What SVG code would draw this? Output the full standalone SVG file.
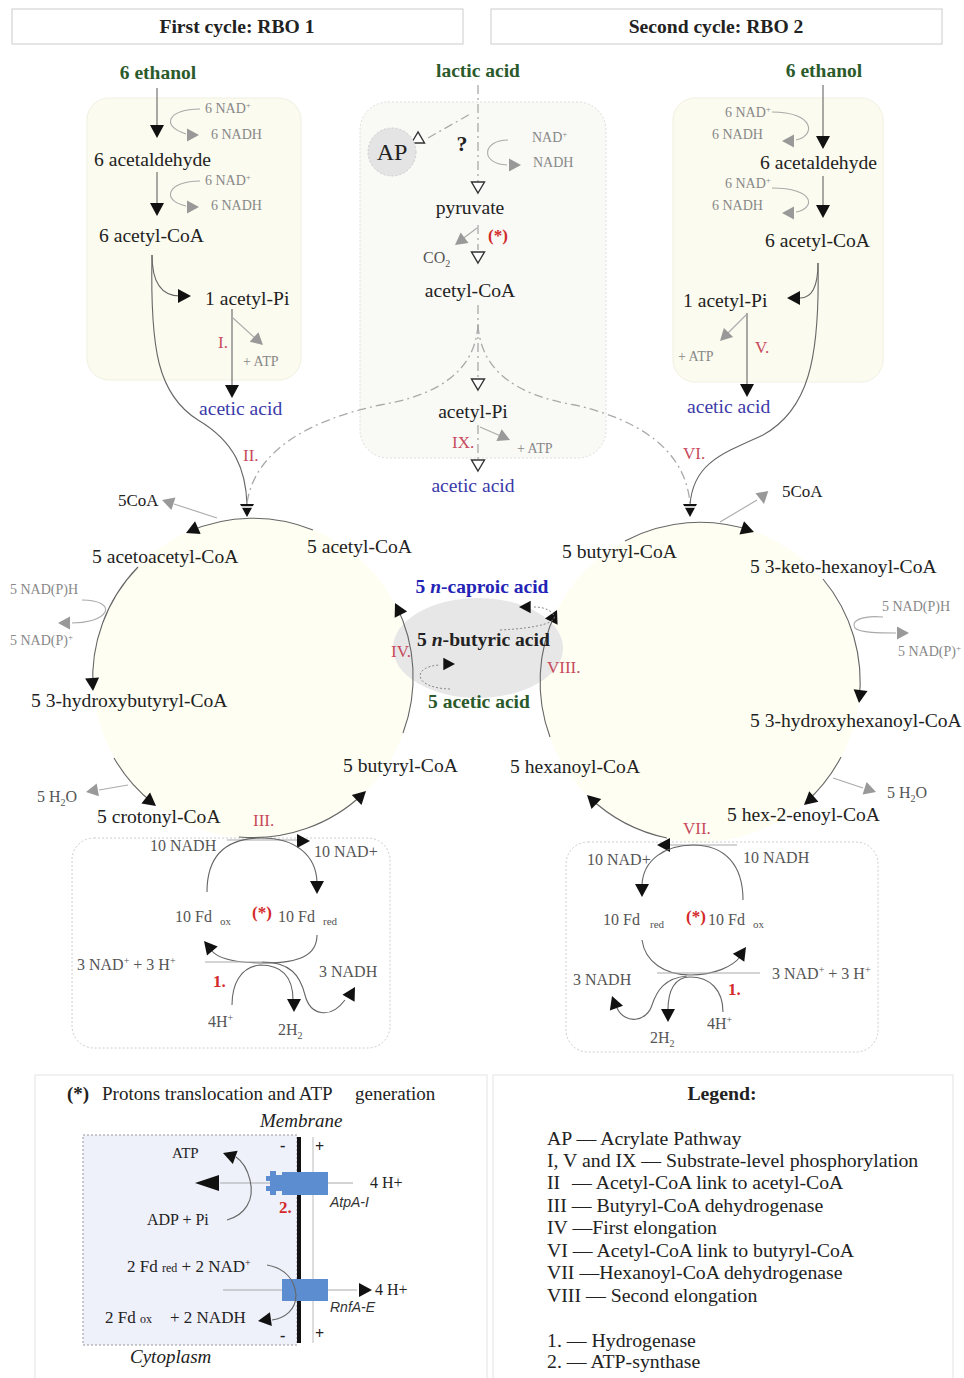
<svg xmlns="http://www.w3.org/2000/svg" width="964" height="1378" viewBox="0 0 964 1378">
<style>
text{font-family:"Liberation Serif","Times New Roman",serif;fill:#222}
.t{font-size:19.6px}
.bd{font-weight:bold}
.g{fill:#2b5a2b;font-weight:bold;font-size:19.5px}
.bl{fill:#3a3aa8;font-size:19.6px}
.sm{font-size:14px;fill:#888}
.md{font-size:16px;fill:#555}
.rn{font-size:17px;fill:#c84a5c}
.rb{font-size:17px;fill:#d42a2a;font-weight:bold}
.lg{font-size:19.8px}
.sans{font-family:"Liberation Sans",Arial,sans-serif;font-style:italic;font-size:14px;fill:#333}
.ln{fill:none;stroke:#666;stroke-width:1.1}
.gl{fill:none;stroke:#aaa;stroke-width:1.1}
.dd{fill:none;stroke:#aaa;stroke-width:1.3;stroke-dasharray:9 4 2 4}
.dt{fill:none;stroke:#888;stroke-width:1;stroke-dasharray:2 2}
.panel{fill:#fbfbef;stroke:#f0f0e2}
.circ{fill:#fefef2}
.box{fill:#fff;stroke:#ccc;stroke-dasharray:2 2}
</style>
<defs>
<path id="ab" d="M0,0L-13,-7L-13,7Z" fill="#111"/>
<path id="ag" d="M0,0L-12,-6.5L-12,6.5Z" fill="#999"/>
<path id="ah" d="M0,0L-11,-6.5L-11,6.5Z" fill="#fff" stroke="#333" stroke-width="1.4"/>
<path id="aL" d="M0,0L-24,-8L-24,8Z" fill="#111"/>
</defs>
<rect width="964" height="1378" fill="#fff"/>

<g id="headers">
<rect x="12" y="9" width="451" height="35" fill="#fff" stroke="#ccc"/>
<text x="237" y="33" text-anchor="middle" class="t bd">First cycle: RBO 1</text>
<rect x="491" y="9" width="451" height="35" fill="#fff" stroke="#ccc"/>
<text x="716" y="33" text-anchor="middle" class="t bd">Second cycle: RBO 2</text>
</g>

<g id="backgrounds">
<rect x="87" y="98" width="214" height="282" rx="22" class="panel"/>
<rect x="360" y="102" width="246" height="356" rx="28" fill="#f9f9f6" stroke="#ddd" stroke-dasharray="2 2"/>
<rect x="673" y="98" width="210" height="284" rx="22" class="panel"/>
<circle cx="253" cy="678" r="160" class="circ"/>
<circle cx="700" cy="682" r="160" class="circ"/>
<ellipse cx="478" cy="648" rx="85" ry="50" fill="#e7e7e7"/>
<rect x="72" y="838" width="318" height="210" rx="22" class="box"/>
<rect x="566" y="842" width="312" height="210" rx="22" class="box"/>
<rect x="35" y="1075" width="452" height="310" fill="#fff" stroke="#e3e3e3"/>
<rect x="493" y="1075" width="460" height="310" fill="#fff" stroke="#e3e3e3"/>
</g>

<g id="connectors">
<!-- left top column -->
<path class="ln" d="M157,88V126"/><use href="#ab" transform="translate(157,138) rotate(90)"/>
<path class="gl" d="M200,109C168,109 160,126 186,134"/><use href="#ag" transform="translate(199,135)"/>
<path class="ln" d="M157,172V204"/><use href="#ab" transform="translate(157,216) rotate(90)"/>
<path class="gl" d="M200,181C168,181 160,200 186,206"/><use href="#ag" transform="translate(199,207)"/>
<path class="ln" d="M152,255C152,280 160,296 180,296"/><use href="#ab" transform="translate(191,296)"/>
<path class="ln" d="M232,309V388"/><use href="#ab" transform="translate(232,398) rotate(90)"/>
<path class="gl" d="M233,318L257,340"/><use href="#ag" transform="translate(263,345) rotate(42)"/>
<path class="ln" d="M152,255C150,350 158,395 198,420C235,442 246,470 247,505"/>
<!-- middle column -->
<path class="dd" d="M478,85V182M478,225V250M478,305V378M478,425V460"/>
<use href="#ah" transform="translate(478,193) rotate(90)"/>
<use href="#ah" transform="translate(478,263) rotate(90)"/>
<use href="#ah" transform="translate(478,390) rotate(90)"/>
<use href="#ah" transform="translate(478,471) rotate(90)"/>
<path class="dd" d="M428,138L472,113"/><use href="#ah" transform="translate(418,132) rotate(-90)"/>
<path class="gl" d="M508,140C482,140 480,164 507,165"/><use href="#ag" transform="translate(521,165)"/>
<path class="gl" d="M477,228L461,240"/><use href="#ag" transform="translate(455,245) rotate(143)"/>
<path class="gl" d="M480,427L503,437"/><use href="#ag" transform="translate(510,440) rotate(24)"/>
<path class="dd" d="M478,325C475,370 440,395 380,405C310,420 255,450 247,503"/>
<path class="dd" d="M478,325C481,370 515,395 575,405C640,420 685,450 690,503"/>
<!-- right top column -->
<path class="ln" d="M823,85V137"/><use href="#ab" transform="translate(823,149) rotate(90)"/>
<path class="gl" d="M772,112C815,112 816,136 796,140"/><use href="#ag" transform="translate(782,141) rotate(180)"/>
<path class="ln" d="M823,176V206"/><use href="#ab" transform="translate(823,218) rotate(90)"/>
<path class="gl" d="M772,188C815,188 816,208 796,212"/><use href="#ag" transform="translate(782,213) rotate(180)"/>
<path class="ln" d="M818,263C818,285 813,298 800,298"/><use href="#ab" transform="translate(787,298) rotate(180)"/>
<path class="ln" d="M747,313V386"/><use href="#ab" transform="translate(747,397) rotate(90)"/>
<path class="gl" d="M746,315L726,335"/><use href="#ag" transform="translate(720,341) rotate(135)"/>
<path class="ln" d="M818,263C820,360 808,410 763,435C718,455 693,465 690,505"/>
<!-- junction arrows -->
<use href="#ab" transform="translate(247,517) rotate(90)"/><path d="M239,507H255" stroke="#fff" stroke-width="1.6"/>
<use href="#ab" transform="translate(690,517) rotate(90)"/><path d="M682,507H698" stroke="#fff" stroke-width="1.6"/>
<!-- left circle -->
<path class="ln" d="M313,530A160,160 0 0 0 188,532"/><use href="#ab" transform="translate(186,533) rotate(156)"/>
<path class="ln" d="M138,567A160,160 0 0 0 93,689"/><use href="#ab" transform="translate(93,691) rotate(86)"/>
<path class="ln" d="M114,758A160,160 0 0 0 154,804"/><use href="#ab" transform="translate(156,806) rotate(38)"/>
<path class="ln" d="M239,837A160,160 0 0 0 364,793"/><use href="#ab" transform="translate(366,791) rotate(-44)"/>
<path class="ln" d="M403,733A160,160 0 0 0 396,605"/><use href="#ab" transform="translate(395,603) rotate(-117)"/>
<path class="gl" d="M217,518L174,504"/><use href="#ag" transform="translate(162,500) rotate(-162)"/>
<path class="gl" d="M82,600C100,600 108,606 105,612C101,620 85,623 72,623"/><use href="#ag" transform="translate(58,623) rotate(180)"/>
<path class="gl" d="M128,785L99,790"/><use href="#ag" transform="translate(86,792) rotate(170)"/>
<!-- right circle -->
<path class="ln" d="M625,541A160,160 0 0 1 752,531"/><use href="#ab" transform="translate(754,532) rotate(19)"/>
<path class="ln" d="M823,579A160,160 0 0 1 859,701"/><use href="#ab" transform="translate(859,703) rotate(97)"/>
<path class="ln" d="M841,757A160,160 0 0 1 805,803"/><use href="#ab" transform="translate(804,805) rotate(139)"/>
<path class="ln" d="M667,838A160,160 0 0 1 589,797"/><use href="#ab" transform="translate(587,795) rotate(-136)"/>
<path class="ln" d="M550,737A160,160 0 0 1 556,612"/><use href="#ab" transform="translate(557,610) rotate(-64)"/>
<path class="gl" d="M720,522L757,500"/><use href="#ag" transform="translate(764,504) rotate(80)"/>
<path class="gl" d="M883,617C862,615 850,621 855,628C860,633 880,633 896,633"/><use href="#ag" transform="translate(909,633)"/>
<path class="gl" d="M833,778L863,788"/><use href="#ag" transform="translate(876,792) rotate(18)"/>
<!-- center loops -->
<path class="dt" d="M450,689C412,688 412,666 440,665"/><use href="#ab" transform="translate(455,664) scale(0.9)"/>
<path class="dt" d="M500,630C540,628 560,622 553,614C548,608 540,607 534,607"/><use href="#ab" transform="translate(519,607) rotate(180) scale(0.9)"/>
<!-- bottom-left box -->
<path class="gl" d="M227,840H298"/><use href="#ab" transform="translate(310,841)"/>
<path class="ln" d="M207,892C207,850 232,838 262,838C295,838 316,855 317,882"/><use href="#ab" transform="translate(317,894) rotate(90)"/>
<path class="ln" d="M317,935C317,955 300,963 265,963C232,963 217,958 211,950"/><use href="#ab" transform="translate(204,941) rotate(-130)"/>
<path class="gl" d="M205,962H262"/>
<path class="ln" d="M232,1005C232,985 240,967 260,965C285,965 293,980 293,1000"/><use href="#ab" transform="translate(294,1012) rotate(90)"/>
<path class="ln" d="M262,962C290,962 300,975 305,995C310,1015 330,1020 345,1000"/><use href="#ab" transform="translate(355,987) rotate(-60)"/>
<!-- bottom-right box -->
<path class="gl" d="M737,845H670"/><use href="#ab" transform="translate(657,845) rotate(180)"/>
<path class="ln" d="M743,900C743,865 725,845 693,845C665,845 643,860 642,885"/><use href="#ab" transform="translate(642,897) rotate(90)"/>
<path class="ln" d="M642,940C645,962 665,975 690,975C715,975 733,966 740,957"/><use href="#ab" transform="translate(746,947) rotate(-55)"/>
<path class="gl" d="M657,973H760"/>
<path class="ln" d="M687,976C665,978 657,990 652,1005C647,1022 625,1025 617,1008"/><use href="#ab" transform="translate(612,996) rotate(-110)"/>
<path class="ln" d="M723,1012C723,990 710,977 690,977C675,977 668,990 668,1010"/><use href="#ab" transform="translate(668,1022) rotate(90)"/>
</g>

<g id="left-column">
<text x="158" y="79" text-anchor="middle" class="g">6 ethanol</text>
<text x="205" y="113" class="sm">6 NAD<tspan dy="-5" font-size="9">+</tspan></text>
<text x="211" y="139" class="sm">6 NADH</text>
<text x="94" y="166" class="t">6 acetaldehyde</text>
<text x="205" y="185" class="sm">6 NAD<tspan dy="-5" font-size="9">+</tspan></text>
<text x="211" y="210" class="sm">6 NADH</text>
<text x="99" y="242" class="t">6 acetyl-CoA</text>
<text x="205" y="305" class="t">1 acetyl-Pi</text>
<text x="218" y="348" class="rn">I.</text>
<text x="243" y="366" class="sm">+ ATP</text>
<text x="199" y="415" class="bl">acetic acid</text>
<text x="243" y="461" class="rn">II.</text>
</g>

<g id="middle-column">
<text x="478" y="77" text-anchor="middle" class="g">lactic acid</text>
<circle cx="392" cy="152" r="24" fill="#e4e4e4" stroke="#ccc" stroke-dasharray="2 2"/>
<text x="392" y="160" text-anchor="middle" font-size="24">AP</text>
<text x="462" y="151" text-anchor="middle" font-size="22" font-weight="bold">?</text>
<text x="532" y="142" class="sm">NAD<tspan dy="-5" font-size="9">+</tspan></text>
<text x="533" y="167" class="sm">NADH</text>
<text x="470" y="214" text-anchor="middle" class="t">pyruvate</text>
<text x="488" y="241" class="rb" font-size="13">(*)</text>
<text x="423" y="263" class="md">CO<tspan dy="4" font-size="10">2</tspan></text>
<text x="470" y="297" text-anchor="middle" class="t">acetyl-CoA</text>
<text x="473" y="418" text-anchor="middle" class="t">acetyl-Pi</text>
<text x="452" y="448" class="rn">IX.</text>
<text x="517" y="453" class="sm">+ ATP</text>
<text x="473" y="492" text-anchor="middle" class="bl">acetic acid</text>
</g>

<g id="right-column">
<text x="824" y="77" text-anchor="middle" class="g">6 ethanol</text>
<text x="725" y="117" class="sm">6  NAD<tspan dy="-5" font-size="9">+</tspan></text>
<text x="712" y="139" class="sm">6 NADH</text>
<text x="760" y="169" class="t">6 acetaldehyde</text>
<text x="725" y="188" class="sm">6  NAD<tspan dy="-5" font-size="9">+</tspan></text>
<text x="712" y="210" class="sm">6 NADH</text>
<text x="765" y="247" class="t">6 acetyl-CoA</text>
<text x="683" y="307" class="t">1 acetyl-Pi</text>
<text x="678" y="361" class="sm">+ ATP</text>
<text x="755" y="353" class="rn">V.</text>
<text x="687" y="413" class="bl">acetic acid</text>
<text x="683" y="459" class="rn">VI.</text>
</g>

<g id="first-cycle">
<text x="118" y="506" font-size="17" fill="#777">5CoA</text>
<text x="92" y="563" class="t">5 acetoacetyl-CoA</text>
<text x="307" y="553" class="t">5 acetyl-CoA</text>
<text x="10" y="594" class="sm">5 NAD(P)H</text>
<text x="10" y="645" class="sm">5 NAD(P)<tspan dy="-5" font-size="9">+</tspan></text>
<text x="31" y="707" class="t">5 3-hydroxybutyryl-CoA</text>
<text x="37" y="802" class="md" font-size="17">5 H<tspan dy="4" font-size="10">2</tspan><tspan dy="-4">O</tspan></text>
<text x="97" y="823" class="t">5 crotonyl-CoA</text>
<text x="253" y="826" class="rn">III.</text>
<text x="343" y="772" class="t">5 butyryl-CoA</text>
<text x="391" y="657" class="rn">IV.</text>
</g>

<g id="products">
<text x="482" y="593" text-anchor="middle" font-size="19.5" font-weight="bold" style="fill:#2323b5">5 <tspan font-style="italic">n</tspan>-caproic acid</text>
<text x="417" y="646" class="t bd">5 <tspan font-style="italic">n</tspan>-butyric acid</text>
<text x="428" y="708" class="g">5 acetic acid</text>
</g>

<g id="second-cycle">
<text x="782" y="497" font-size="17" fill="#777">5CoA</text>
<text x="562" y="558" class="t">5 butyryl-CoA</text>
<text x="750" y="573" class="t">5 3-keto-hexanoyl-CoA</text>
<text x="882" y="611" class="sm">5 NAD(P)H</text>
<text x="898" y="656" class="sm">5 NAD(P)<tspan dy="-5" font-size="9">+</tspan></text>
<text x="750" y="727" class="t">5 3-hydroxyhexanoyl-CoA</text>
<text x="887" y="798" class="md" font-size="17">5 H<tspan dy="4" font-size="10">2</tspan><tspan dy="-4">O</tspan></text>
<text x="727" y="821" class="t">5 hex-2-enoyl-CoA</text>
<text x="683" y="834" class="rn">VII.</text>
<text x="510" y="773" class="t">5 hexanoyl-CoA</text>
<text x="547" y="673" class="rn">VIII.</text>
</g>

<g id="hydrogenase-1">
<text x="150" y="851" class="md">10 NADH</text>
<text x="314" y="857" class="md">10 NAD+</text>
<text x="175" y="922" class="md">10 Fd<tspan x="220" dy="3" font-size="11">ox</tspan></text>
<text x="252" y="918" class="rb" font-size="14">(*)</text>
<text x="278" y="922" class="md">10 Fd<tspan x="323" dy="3" font-size="11">red</tspan></text>
<text x="77" y="970" class="md">3  NAD<tspan dy="-6" font-size="10">+</tspan><tspan dy="6"> + 3 H</tspan><tspan dy="-6" font-size="10">+</tspan></text>
<text x="213" y="987" class="rb">1.</text>
<text x="319" y="977" class="md">3 NADH</text>
<text x="208" y="1027" class="md">4H<tspan dy="-6" font-size="10">+</tspan></text>
<text x="278" y="1035" class="md">2H<tspan dy="4" font-size="10">2</tspan></text>
</g>

<g id="hydrogenase-2">
<text x="587" y="865" class="md">10 NAD+</text>
<text x="743" y="863" class="md">10 NADH</text>
<text x="603" y="925" class="md">10 Fd<tspan x="650" dy="3" font-size="11">red</tspan></text>
<text x="686" y="922" class="rb" font-size="14">(*)</text>
<text x="708" y="925" class="md">10 Fd<tspan x="753" dy="3" font-size="11">ox</tspan></text>
<text x="772" y="979" class="md">3  NAD<tspan dy="-6" font-size="10">+</tspan><tspan dy="6"> + 3 H</tspan><tspan dy="-6" font-size="10">+</tspan></text>
<text x="728" y="995" class="rb">1.</text>
<text x="573" y="985" class="md">3 NADH</text>
<text x="650" y="1043" class="md">2H<tspan dy="4" font-size="10">2</tspan></text>
<text x="707" y="1029" class="md">4H<tspan dy="-6" font-size="10">+</tspan></text>
</g>

<g id="membrane-panel">
<text x="67" y="1100" font-size="19"><tspan font-weight="bold">(*)</tspan><tspan x="102">Protons translocation and ATP</tspan><tspan x="355">generation</tspan></text>
<text x="260" y="1127" font-size="19" font-style="italic">Membrane</text>
<rect x="83" y="1135" width="214" height="210" fill="#eef0fa" stroke="#999" stroke-dasharray="2 2"/>
<path d="M313,1137V1343" stroke="#bbb" stroke-width="1"/>
<path d="M299,1137V1343" stroke="#111" stroke-width="4"/>
<text x="280" y="1151" font-size="16" font-weight="bold">-</text>
<text x="315" y="1152" font-size="16" font-weight="bold">+</text>
<text x="280" y="1341" font-size="16" font-weight="bold">-</text>
<text x="315" y="1339" font-size="16" font-weight="bold">+</text>
<path class="gl" d="M220,1183H353"/>
<use href="#aL" transform="translate(195,1183) rotate(180)"/>
<path d="M328,1172H282V1175H276V1171H270V1176H266V1181H270V1186H266V1191H270V1195H276V1191H282V1195H328Z" fill="#5b8dd0"/>
<text x="370" y="1188" font-size="16">4 H+</text>
<text x="330" y="1207" class="sans">AtpA-I</text>
<text x="279" y="1213" class="rb" font-size="16">2.</text>
<text x="172" y="1158" font-size="15">ATP</text>
<path class="ln" d="M227,1220C245,1215 255,1200 250,1180C247,1168 242,1161 236,1157"/>
<use href="#ab" transform="translate(223,1153) rotate(-160)"/>
<text x="147" y="1225" font-size="16">ADP + Pi</text>
<path class="gl" d="M223,1290H357"/>
<rect x="282" y="1279" width="46" height="22" fill="#5b8dd0"/>
<use href="#ab" transform="translate(372,1290)"/>
<text x="375" y="1295" font-size="16">4 H+</text>
<text x="330" y="1312" class="sans">RnfA-E</text>
<text x="127" y="1272" font-size="17">2 Fd <tspan font-size="12">red</tspan> + 2 NAD<tspan dy="-6" font-size="10">+</tspan></text>
<path class="ln" d="M267,1265C285,1268 295,1280 296,1295C296,1310 285,1318 272,1320"/>
<use href="#ab" transform="translate(258,1321) rotate(172)"/>
<text x="105" y="1323" font-size="17">2 Fd <tspan font-size="12">ox</tspan><tspan x="170">+ 2 NADH</tspan></text>
<text x="130" y="1363" font-size="19" font-style="italic">Cytoplasm</text>
</g>

<g id="legend">
<text x="722" y="1100" text-anchor="middle" class="lg bd">Legend:</text>
<text x="547" y="1145" class="lg">AP — Acrylate Pathway</text>
<text x="547" y="1167" class="lg">I, V and IX — Substrate-level phosphorylation</text>
<text x="547" y="1189" class="lg">II<tspan x="572">— Acetyl-CoA link to acetyl-CoA</tspan></text>
<text x="547" y="1212" class="lg">III — Butyryl-CoA dehydrogenase</text>
<text x="547" y="1234" class="lg">IV —First elongation</text>
<text x="547" y="1257" class="lg">VI — Acetyl-CoA link to butyryl-CoA</text>
<text x="547" y="1279" class="lg">VII —Hexanoyl-CoA dehydrogenase</text>
<text x="547" y="1302" class="lg">VIII — Second elongation</text>
<text x="547" y="1347" class="lg">1. — Hydrogenase</text>
<text x="547" y="1368" class="lg">2. — ATP-synthase</text>
</g>
</svg>
